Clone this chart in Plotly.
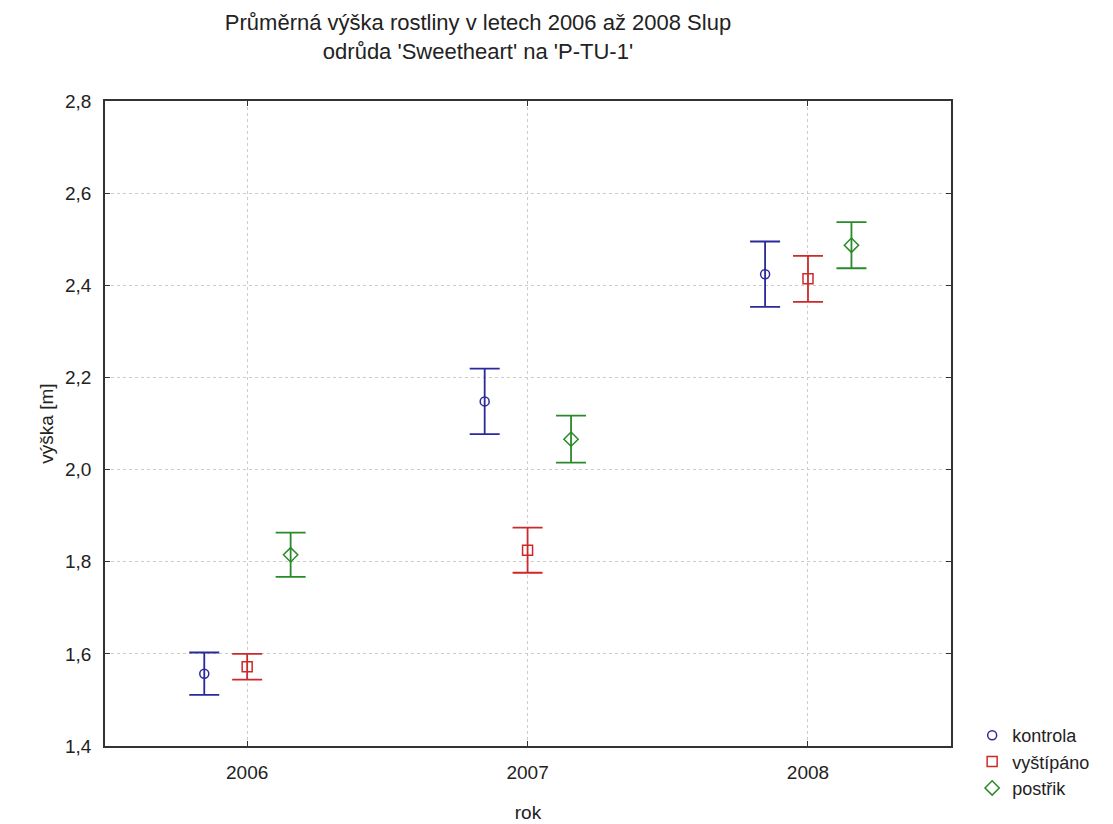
import plotly.graph_objects as go

years = ["2006", "2007", "2008"]
series_names = ["kontrola", "vyštípáno", "postřik"]
means = {
    "kontrola":  [1.557, 2.148, 2.424],
    "vyštípáno": [1.572, 1.825, 2.414],
    "postřik":   [1.815, 2.066, 2.487],
}
errors = {
    "kontrola":  [0.046, 0.071, 0.071],
    "vyštípáno": [0.028, 0.049, 0.050],
    "postřik":   [0.048, 0.051, 0.050],
}
colors = {"kontrola": "#2a2a9c", "vyštípáno": "#cc2a2a", "postřik": "#2a8a2a"}
symbols = {"kontrola": "circle-open", "vyštípáno": "square-open", "postřik": "diamond-open"}
msizes = {"kontrola": 9, "vyštípáno": 10, "postřik": 11}
offsets = {"kontrola": -0.153, "vyštípáno": 0.0, "postřik": 0.155}

font = "Liberation Sans, Arial, sans-serif"
txt = "#222222"
fig = go.Figure()
for name in series_names:
    xs = [i + offsets[name] for i in range(len(years))]
    fig.add_trace(go.Scatter(
        x=xs, y=means[name], mode="markers", name=name,
        marker=dict(symbol=symbols[name], size=msizes[name], color=colors[name],
                    line=dict(width=1.5, color=colors[name])),
        error_y=dict(type="data", array=errors[name], visible=True,
                     color=colors[name], thickness=1.8, width=15),
    ))

fig.update_layout(
    width=1113, height=824,
    margin=dict(l=97, r=170, t=93, b=77),
    paper_bgcolor="white", plot_bgcolor="white",
    separators=", ",
    font=dict(family=font, size=19, color=txt),
    title=dict(text="Průměrná výška rostliny v letech 2006 až 2008 Slup<br>odrůda 'Sweetheart' na 'P-TU-1'",
               x=(470 - 97) / 846, xref="paper", xanchor="center",
               y=1 - 22 / 824, yref="container", yanchor="top",
               font=dict(family=font, size=22, color=txt)),
    showlegend=True,
    legend=dict(x=1.025, xanchor="left", y=0.045, yanchor="top",
                font=dict(family=font, size=18, color=txt),
                bgcolor="rgba(0,0,0,0)", borderwidth=0, tracegroupgap=0),
)
fig.update_xaxes(
    range=[-0.507, 2.51], tickvals=[0, 1, 2], ticktext=years,
    showline=True, linecolor="#333333", linewidth=1.5, mirror="ticks",
    ticks="inside", ticklen=5, tickcolor="#333333",
    showgrid=True, gridcolor="#cccccc", griddash="dot", gridwidth=1,
    zeroline=False, ticklabelstandoff=8,
    tickfont=dict(family=font, size=19, color=txt),
    title=dict(text="rok", font=dict(family=font, size=19, color=txt), standoff=24),
)
fig.update_yaxes(
    range=[1.4, 2.8], dtick=0.2, tick0=1.4, tickformat=".1f",
    showline=True, linecolor="#333333", linewidth=1.5, mirror="ticks",
    ticks="inside", ticklen=5, tickcolor="#333333",
    showgrid=True, gridcolor="#cccccc", griddash="dot", gridwidth=1,
    zeroline=False, ticklabelstandoff=8,
    tickfont=dict(family=font, size=19, color=txt),
    title=dict(text="výška [m]", font=dict(family=font, size=19, color=txt), standoff=6),
)
fig.write_html("out.html")
